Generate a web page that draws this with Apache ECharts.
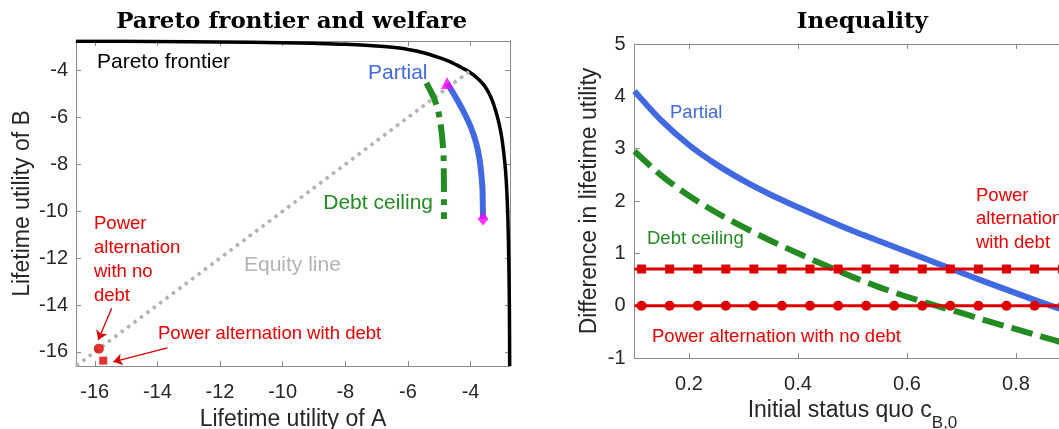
<!DOCTYPE html>
<html>
<head>
<meta charset="utf-8">
<title>Pareto frontier, welfare and inequality</title>
<script src="https://cdn.jsdelivr.net/npm/echarts@6/dist/echarts.min.js"></script>
<style>
  html, body { margin: 0; padding: 0; background: #fff; overflow: hidden; }
  #frame { width: 1059px; height: 429px; overflow: hidden; position: relative; }
  #chart { width: 1140px; height: 429px; }
</style>
</head>
<body>
<div id="frame"><div id="chart"></div></div>
<script>
// ---- Left panel: lifetime utility of A (x) against lifetime utility of B (y) ----
const frontierA = [-16.6, -14, -12, -10, -9, -8, -7, -6.5, -6, -5.5, -5, -4.7, -4.45, -4.25, -4.05,
                   -3.85, -3.65, -3.48, -3.33, -3.2, -3.1, -3.01, -2.94, -2.88, -2.84, -2.81, -2.78, -2.76, -2.75];
const frontierB = [-2.75, -2.76, -2.78, -2.81, -2.84, -2.88, -2.95, -3.01, -3.10, -3.24, -3.45, -3.60, -3.76, -3.90, -4.05,
                   -4.25, -4.5, -4.8, -5.2, -5.7, -6.2, -6.8, -7.5, -8.3, -9.2, -10.2, -12, -14, -16.6];

const partialA = [-4.75, -4.46, -4.20, -3.98, -3.82, -3.72, -3.66, -3.62, -3.61, -3.60];
const partialB = [-4.53, -5.17, -5.81, -6.45, -7.09, -7.73, -8.37, -9.01, -9.65, -10.33];

const ceilingA = [-5.41, -5.17, -5.02, -4.94, -4.89, -4.86, -4.855, -4.85, -4.85, -4.85];
const ceilingB = [-4.53, -5.17, -5.81, -6.45, -7.09, -7.73, -8.37, -9.01, -9.65, -10.33];

const equityA = [-16.6, -4.05];
const equityB = [-16.6, -4.05];

const alternationNoDebt = [-15.87, -15.86];
const alternationDebt = [-15.73, -16.37];

// arrows pointing from the red annotations to the two alternation outcomes
const arrowNoDebt = [[-15.46, -14.14], [-15.89, -15.49]];
const arrowDebt = [[-13.68, -15.83], [-15.41, -16.42]];

const utilityTicks = [-16, -14, -12, -10, -8, -6, -4];

// ---- Right panel: difference in lifetime utility vs initial status quo c_B,0 ----
const statusQuo   = [0.1, 0.15, 0.2, 0.25, 0.3, 0.35, 0.4, 0.45, 0.5, 0.55, 0.6, 0.65, 0.7, 0.75, 0.8, 0.85, 0.9];
const gapPartial  = [4.10, 3.53, 3.07, 2.70, 2.39, 2.12, 1.88, 1.65, 1.43, 1.23, 1.03, 0.83, 0.63, 0.43, 0.24, 0.05, -0.13];
const gapCeiling  = [2.95, 2.48, 2.10, 1.78, 1.50, 1.24, 1.00, 0.77, 0.55, 0.35, 0.17, 0.01, -0.14, -0.30, -0.45, -0.60, -0.75];

const alternationC = [0.1, 0.113, 0.1645, 0.216, 0.2675, 0.319, 0.3705, 0.422, 0.4735, 0.525,
                      0.5765, 0.628, 0.6795, 0.731, 0.7825, 0.834, 0.8855, 0.9];
const gapDebt     = [0.7, 0.7, 0.7, 0.7, 0.7, 0.7, 0.7, 0.7, 0.7, 0.7, 0.7, 0.7, 0.7, 0.7, 0.7, 0.7, 0.7, 0.7];
const gapNoDebt   = [0, 0, 0, 0, 0, 0, 0, 0, 0, 0, 0, 0, 0, 0, 0, 0, 0, 0];

const statusQuoTicks = [0.2, 0.4, 0.6, 0.8];

// ---- styling ----
const ink = '#262626';
const frameGray = '#8a8a8a';
const red = '#dd0000';
const redText = '#ee0000';
const blue = '#4169E1';
const green = '#228B22';
const magenta = '#ff00ff';
const equityGray = '#b3b3b3';
const sans = '"Liberation Sans", Arial, sans-serif';
const serif = '"DejaVu Serif", serif';

const pairs = (xs, ys) => xs.map((x, i) => [x, ys[i]]);

function frameAxis(gridIndex, position, min, max, tickValues, interval) {
  const tick = { show: true, inside: true, length: 5, lineStyle: { color: frameGray, width: 1 } };
  if (tickValues) tick.customValues = tickValues;
  const ax = {
    type: 'value', gridIndex, position, min, max,
    axisLine: { show: true, onZero: false, lineStyle: { color: frameGray, width: 1 } },
    axisTick: tick,
    axisLabel: { show: false },
    splitLine: { show: false }
  };
  if (interval) ax.interval = interval;
  return ax;
}

function withLabels(ax, tickValues, margin) {
  ax.axisLabel = { show: true, margin, color: ink, fontSize: 20, fontFamily: sans };
  if (tickValues) ax.axisLabel.customValues = tickValues;
  return ax;
}

const nameStyle = { color: ink, fontSize: 23, fontFamily: sans };

// left panel axes
const leftX = withLabels(frameAxis(0, 'bottom', -16.6, -2.74, utilityTicks), utilityTicks, 16);
Object.assign(leftX, { name: 'Lifetime utility of A', nameLocation: 'middle', nameGap: 42, nameTextStyle: nameStyle });
const leftXTop = frameAxis(0, 'top', -16.6, -2.74, utilityTicks);
const leftY = withLabels(frameAxis(0, 'left', -16.6, -2.74, utilityTicks), utilityTicks, 8);
Object.assign(leftY, { name: 'Lifetime utility of B', nameLocation: 'middle', nameGap: 42, nameTextStyle: nameStyle });
const leftYRight = frameAxis(0, 'right', -16.6, -2.74, utilityTicks);

// right panel axes
const rightX = withLabels(frameAxis(1, 'bottom', 0.1, 0.9, statusQuoTicks), statusQuoTicks, 16);
rightX.axisLabel.formatter = v => v.toFixed(1);
Object.assign(rightX, {
  name: '{m|Initial status quo c}{s|B,0}', nameLocation: 'middle', nameGap: 38,
  nameTextStyle: {
    color: ink, fontFamily: sans,
    rich: {
      m: { fontSize: 23, fontFamily: sans, color: ink, verticalAlign: 'top', lineHeight: 23 },
      s: { fontSize: 17, fontFamily: sans, color: ink, verticalAlign: 'top', lineHeight: 17, padding: [16, 0, 0, 0] }
    }
  }
});
const rightXTop = frameAxis(1, 'top', 0.1, 0.9, statusQuoTicks);
const rightY = withLabels(frameAxis(1, 'left', -1, 5, null, 1), null, 9);
Object.assign(rightY, { name: 'Difference in lifetime utility', nameLocation: 'middle', nameGap: 33, nameTextStyle: nameStyle });
const rightYRight = frameAxis(1, 'right', -1, 5, null, 1);

function line(xi, yi, data, color, width, dash, extra) {
  return Object.assign({
    type: 'line', xAxisIndex: xi, yAxisIndex: yi, data, symbol: 'none', silent: true,
    lineStyle: { color, width, type: dash || 'solid', cap: 'butt', join: 'round' }
  }, extra || {});
}

function markedRail(xs, ys, shape, size) {
  const data = xs.map((x, i) => {
    const item = { value: [x, ys[i]] };
    if (i === 0 || i === xs.length - 1) item.symbol = 'none';
    return item;
  });
  return {
    type: 'line', xAxisIndex: 2, yAxisIndex: 2, data, symbol: shape, symbolSize: size, showSymbol: true,
    silent: true, itemStyle: { color: red, borderWidth: 0 },
    lineStyle: { color: red, width: 3 }, z: 5
  };
}

const texts = [
  { text: 'Pareto frontier and welfare', x: 291.6, y: 22, font: 'bold 23px ' + serif, fill: '#000', align: 'center' },
  { text: 'Inequality', x: 862.3, y: 22, font: 'bold 23px ' + serif, fill: '#000', align: 'center' },
  { text: 'Pareto frontier', x: 97, y: 62, font: '21px ' + sans, fill: '#000', align: 'left' },
  { text: 'Partial', x: 368, y: 73, font: '21px ' + sans, fill: blue, align: 'left' },
  { text: 'Debt ceiling', x: 433, y: 203, font: '21px ' + sans, fill: green, align: 'right' },
  { text: 'Equity line', x: 244, y: 265, font: '21px ' + sans, fill: equityGray, align: 'left' },
  { text: 'Power alternation with debt', x: 158, y: 334, font: '18.5px ' + sans, fill: redText, align: 'left' },
  { text: 'Partial', x: 670, y: 113, font: '18.5px ' + sans, fill: blue, align: 'left' },
  { text: 'Debt ceiling', x: 647, y: 238.7, font: '18.5px ' + sans, fill: green, align: 'left' },
  { text: 'Power alternation with no debt', x: 652, y: 336.7, font: '18.5px ' + sans, fill: redText, align: 'left' }
];
const blocks = [
  { text: 'Power\nalternation\nwith no\ndebt', x: 94, y: 211.5, lh: 24 },
  { text: 'Power\nalternation\nwith debt', x: 976, y: 184.3, lh: 23.3 }
];

const graphic = texts.map(t => ({
  type: 'text', x: t.x, y: t.y, silent: true,
  style: { text: t.text, font: t.font, fill: t.fill, align: t.align, verticalAlign: 'middle' }
})).concat(blocks.map(b => ({
  type: 'text', x: b.x, y: b.y, silent: true,
  style: { text: b.text, font: '18.5px ' + sans, fill: redText, align: 'left', verticalAlign: 'top', lineHeight: b.lh }
})));

const option = {
  animation: false,
  backgroundColor: '#fff',
  grid: [
    { left: 76, top: 41, width: 434, height: 325, containLabel: false, outerBoundsMode: 'none' },
    { left: 634.5, top: 44, width: 436, height: 314, containLabel: false, outerBoundsMode: 'none' }
  ],
  xAxis: [leftX, leftXTop, rightX, rightXTop],
  yAxis: [leftY, leftYRight, rightY, rightYRight],
  graphic,
  series: [
    // left panel
    line(0, 0, pairs(frontierA, frontierB), '#000', 3.5, 'solid', { smooth: 0.3 }),
    line(0, 0, pairs(equityA, equityB), equityGray, 3.5, [3.5, 4.5]),
    line(0, 0, pairs(ceilingA, ceilingB), green, 6, [24, 7, 6, 7], { smooth: 0.3 }),
    line(0, 0, pairs(partialA, partialB), blue, 6, 'solid', { smooth: 0.3 }),
    {
      type: 'scatter', xAxisIndex: 0, yAxisIndex: 0, silent: true, z: 4,
      itemStyle: { color: magenta },
      data: [
        { value: [partialA[0], partialB[0]], symbol: 'triangle', symbolSize: [12, 12] },
        { value: [partialA[partialA.length - 1], partialB[partialB.length - 1]], symbol: 'diamond', symbolSize: [11, 13] }
      ]
    },
    {
      type: 'lines', coordinateSystem: 'cartesian2d', xAxisIndex: 0, yAxisIndex: 0, silent: true, z: 4,
      symbol: ['none', 'arrow'], symbolSize: 9,
      lineStyle: { color: red, width: 1.3, opacity: 1 },
      data: [{ coords: arrowNoDebt }, { coords: arrowDebt }]
    },
    {
      type: 'scatter', xAxisIndex: 0, yAxisIndex: 0, silent: true, z: 5,
      itemStyle: { color: red },
      data: [
        { value: alternationNoDebt, symbol: 'circle', symbolSize: 10 },
        { value: alternationDebt, symbol: 'rect', symbolSize: 8 }
      ]
    },
    // right panel
    line(2, 2, pairs(statusQuo, gapPartial), blue, 6, 'solid', { smooth: 0.3 }),
    line(2, 2, pairs(statusQuo, gapCeiling), green, 6, [22, 8], { smooth: 0.3 }),
    markedRail(alternationC, gapDebt, 'rect', 9),
    markedRail(alternationC, gapNoDebt, 'circle', 10)
  ]
};

const chart = echarts.init(document.getElementById('chart'), null, { renderer: 'canvas' });
chart.setOption(option);
</script>
</body>
</html>
